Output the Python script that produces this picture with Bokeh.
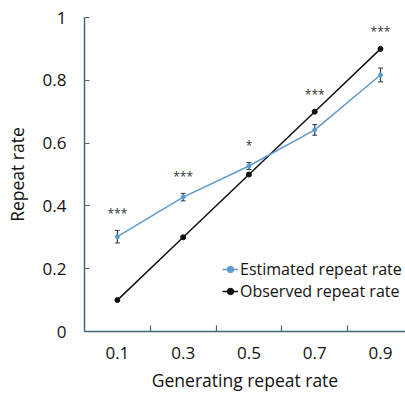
from bokeh.plotting import figure
from bokeh.models import FixedTicker, Range1d, Legend, LegendItem, ColumnDataSource, Whisker
from bokeh.core.properties import value
from bokeh.embed import file_html
from bokeh.resources import INLINE

# Data
categories = ["0.1", "0.3", "0.5", "0.7", "0.9"]
estimated = [0.302, 0.428, 0.527, 0.642, 0.817]
estimated_err = [0.020, 0.012, 0.011, 0.017, 0.022]
observed = [0.1, 0.3, 0.5, 0.7, 0.9]
significance = ["***", "***", "*", "***", "***"]
y_ticks = [0, 0.2, 0.4, 0.6, 0.8, 1.0]
y_tick_labels = ["0", "0.2", "0.4", "0.6", "0.8", "1"]

FONT = "Open Sans"
AXIS_COLOR = "#3d6a7c"
BLUE = "#5e9bcf"

idx = list(range(len(categories)))

p = figure(width=405, height=394, output_backend="svg", toolbar_location=None,
           x_range=Range1d(-0.5, 4.38), y_range=Range1d(0, 1.0),
           min_border_left=84, min_border_top=17, min_border_right=0, min_border_bottom=0)
p.outline_line_color = None
p.grid.visible = False
p.background_fill_color = "white"
p.border_fill_color = "white"

src = ColumnDataSource(dict(x=idx, est=estimated,
                            lo=[e - d for e, d in zip(estimated, estimated_err)],
                            hi=[e + d for e, d in zip(estimated, estimated_err)],
                            obs=observed))

# Observed
obs_line = p.line("x", "obs", source=src, line_color="#111111", line_width=1.5)
obs_pts = p.scatter("x", "obs", source=src, size=5, color="#111111")

# Estimated
est_line = p.line("x", "est", source=src, line_color=BLUE, line_width=1.5)
w = Whisker(base="x", lower="lo", upper="hi", source=src, line_color="#2b3f55", line_width=1.2)
w.upper_head.size = 5
w.lower_head.size = 5
w.upper_head.line_color = "#2b3f55"
w.lower_head.line_color = "#2b3f55"
p.add_layout(w)
est_pts = p.scatter("x", "est", source=src, size=4, color=BLUE)

# significance stars
star_y = [max(h, o) + 0.055 for h, o in zip(src.data["hi"], observed)]
p.text(x=idx, y=star_y, text=significance, text_align="center", text_baseline="middle",
       text_font=value(FONT), text_font_size="12px", text_color="#333333")

# Axes
xa = p.xaxis[0]
xa.ticker = FixedTicker(ticks=idx, minor_ticks=[i + 0.5 for i in idx[:-1]])
xa.major_label_overrides = {i: c for i, c in zip(idx, categories)}
xa.major_tick_in = 0
xa.major_tick_out = 0
xa.minor_tick_in = 6
xa.minor_tick_out = 0
xa.major_label_standoff = 15
xa.axis_label = "Generating repeat rate"
xa.axis_label_standoff = 6

ya = p.yaxis[0]
ya.ticker = FixedTicker(ticks=y_ticks)
ya.major_label_overrides = {t: l for t, l in zip(y_ticks, y_tick_labels)}
ya.major_tick_in = 5
ya.major_tick_out = 0
ya.minor_tick_in = 0
ya.minor_tick_out = 0
ya.major_label_standoff = 18
ya.axis_label = "Repeat rate"
ya.axis_label_standoff = 11

for ax in (xa, ya):
    ax.axis_line_color = AXIS_COLOR
    ax.axis_line_width = 1.5
    ax.major_tick_line_color = AXIS_COLOR
    ax.minor_tick_line_color = AXIS_COLOR
    ax.major_tick_line_width = 1.2
    ax.minor_tick_line_width = 1.2
    ax.major_label_text_font = FONT
    ax.major_label_text_font_size = "17px"
    ax.major_label_text_color = "#111111"
    ax.axis_label_text_font = FONT
    ax.axis_label_text_font_size = "17.5px"
    ax.axis_label_text_font_style = "normal"
    ax.axis_label_text_color = "#111111"

legend = Legend(items=[LegendItem(label="Estimated repeat rate", renderers=[est_line, est_pts]),
                       LegendItem(label="Observed repeat rate", renderers=[obs_line, obs_pts])],
                location=(138, 29), orientation="vertical")
legend.background_fill_alpha = 0
legend.border_line_color = None
legend.padding = 0
legend.margin = 0
legend.spacing = 0
legend.glyph_width = 16
legend.glyph_height = 18
legend.label_height = 18
legend.label_standoff = 2
legend.label_text_font = FONT
legend.label_text_font_size = "16px"
legend.label_text_color = "#111111"
p.add_layout(legend)

open("out.html", "w").write(file_html(p, INLINE))
